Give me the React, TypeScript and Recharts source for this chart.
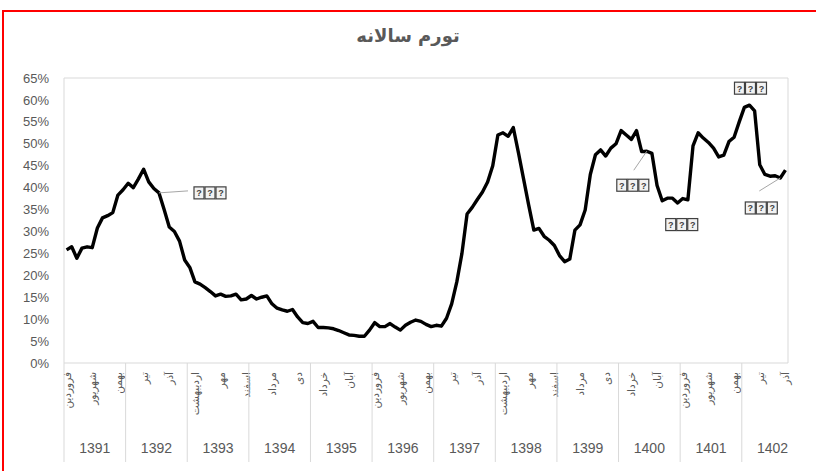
import React from 'react'
import { LineChart, Line, XAxis, YAxis, ReferenceArea } from 'recharts'

// ماه‌ها و سال‌ها
const months = ['فروردین', 'اردیبهشت', 'خرداد', 'تیر', 'مرداد', 'شهریور', 'مهر', 'آبان', 'آذر', 'دی', 'بهمن', 'اسفند']
const years = [1391, 1392, 1393, 1394, 1395, 1396, 1397, 1398, 1399, 1400, 1401, 1402]

// annual inflation, percent, monthly from 1391/01 to 1402/09
const inflation = [
  25.8, 26.5, 23.9, 26.2, 26.5, 26.3, 30.8, 33.1, 33.6, 34.3, 38.3, 39.5,
  41.0, 40.0, 42.0, 44.2, 41.3, 39.8, 38.8, 35.0, 31.0, 30.0, 27.8, 23.5,
  21.8, 18.5, 18.0, 17.2, 16.3, 15.3, 15.7, 15.2, 15.3, 15.7, 14.4, 14.6,
  15.4, 14.6, 15.0, 15.3, 13.5, 12.5, 12.1, 11.8, 12.2, 10.5, 9.2, 9.0,
  9.5, 8.1, 8.1, 8.0, 7.8, 7.4, 6.9, 6.4, 6.3, 6.1, 6.1, 7.5,
  9.2, 8.3, 8.3, 9.0, 8.2, 7.5, 8.6, 9.3, 9.8, 9.5, 8.8, 8.3,
  8.6, 8.4, 10.2, 13.5, 18.5, 25.0, 34.0, 35.5, 37.3, 39.0, 41.3, 45.0,
  52.0, 52.5, 51.7, 53.7, 48.0, 42.0, 36.0, 30.3, 30.7, 28.9, 28.0, 26.8,
  24.5, 23.1, 23.7, 30.3, 31.5, 34.9, 43.0, 47.5, 48.6, 47.2, 49.0, 50.0,
  53.0, 52.0, 51.0, 53.0, 48.2, 48.3, 47.8, 40.5, 37.0, 37.6, 37.6, 36.5,
  37.5, 37.2, 49.5, 52.5, 51.3, 50.3, 49.0, 47.0, 47.4, 50.5, 51.5, 55.0,
  58.3, 58.8, 57.5, 45.2, 43.0, 42.6, 42.7, 42.2, 44.0,
]

const yTicks = [0, 5, 10, 15, 20, 25, 30, 35, 40, 45, 50, 55, 60, 65]

// points that carry a data label (shown as missing-glyph boxes)
const noteIdx = [18, 113, 120, 139, 133]
const noteText = '???'

const data = inflation.map((v, i) => ({ x: i + 0.5, v }))
const n = inflation.length

const monthTicks = inflation.map((_, i) => i + 0.5).filter((_, i) => i % 5 === 0)
const yearStarts = years.map((_, k) => k * 12)
const yearMids = years.map((_, k) => k * 12 + 6)
const xTicks = [...yearStarts, ...yearMids, ...monthTicks].sort((a, b) => a - b)

const gray = '#595959'
const faFont = '"DejaVu Sans", sans-serif'
const numFont = '"Liberation Sans", Arial, sans-serif'

// offsets of the label text (and leader end) from its point
const noteStyle: Record<number, { dx: number; dy: number; lx?: number; ly?: number }> = {
  18: { dx: 51, dy: 0, lx: 29, ly: -2 },
  113: { dx: -14, dy: 34, lx: -13, ly: 19 },
  120: { dx: -1, dy: 26 },
  139: { dx: -19, dy: 30, lx: -21, ly: 13 },
  133: { dx: 1, dy: -17 },
}

function AxisTick(props: any) {
  const { x, y, payload } = props
  const v = payload.value as number
  if (v % 1 !== 0) {
    const i = Math.floor(v)
    return (
      <text
        x={x}
        y={y + 9}
        transform={`rotate(-90, ${x}, ${y + 9})`}
        textAnchor="end"
        dy={4}
        fontSize={10.5}
        fontFamily={faFont}
        fill={gray}
      >
        {months[i % 12]}
      </text>
    )
  }
  if (v % 12 === 0) {
    return <line x1={x} x2={x} y1={y} y2={y + 99} stroke="#d9d9d9" strokeWidth={1} />
  }
  const k = (v - 6) / 12
  return (
    <text x={x} y={y + 90} textAnchor="middle" fontSize={14} fontFamily={numFont} fill={gray}>
      {years[k]}
    </text>
  )
}

// draws the label as a row of "missing glyph" boxes
function NoteLabel(props: any) {
  const { x, y, index } = props
  if (!noteIdx.includes(index)) return null
  const s = noteStyle[index]
  const chars = noteText.split('')
  const bw = 10
  const gap = 1
  const total = chars.length * bw + (chars.length - 1) * gap
  const cx = x + s.dx
  const cy = y + s.dy
  return (
    <g>
      {s.lx !== undefined && (
        <line x1={x} y1={y} x2={x + s.lx} y2={y + (s.ly || 0)} stroke="#a6a6a6" strokeWidth={1} />
      )}
      {chars.map((c, j) => {
        const bx = cx - total / 2 + j * (bw + gap)
        return (
          <g key={j}>
            <rect x={bx} y={cy - 6} width={bw} height={12} fill="#f2f2f2" stroke="#404040" strokeWidth={1.2} />
            <text x={bx + bw / 2} y={cy + 3.5} textAnchor="middle" fontSize={9} fontWeight="bold" fontFamily={numFont} fill="#404040">
              {c}
            </text>
          </g>
        )
      })}
    </g>
  )
}

export default function App() {
  return (
    <div style={{ position: 'relative', width: 816, height: 471, overflow: 'hidden', background: '#fff' }}>
      <style>{'body{margin:0}'}</style>
      <div
        style={{
          position: 'absolute',
          left: 2,
          top: 10,
          width: 900,
          height: 600,
          borderTop: '2.5px solid #ff0000',
          borderLeft: '2.5px solid #ff0000',
        }}
      />
      <div
        style={{
          position: 'absolute',
          left: 0,
          width: 816,
          top: 25,
          textAlign: 'center',
          fontFamily: faFont,
          fontSize: 18,
          fontWeight: 'bold',
          color: gray,
          direction: 'rtl',
        }}
      >
        تورم سالانه
      </div>
      <LineChart width={816} height={471} data={data} margin={{ top: 78, right: 28, bottom: 0, left: 8 }}>
        <XAxis
          type="number"
          dataKey="x"
          domain={[0, n]}
          ticks={xTicks}
          interval={0}
          tick={<AxisTick />}
          tickLine={false}
          tickSize={0}
          tickMargin={0}
          axisLine={false}
          height={108}
          allowDataOverflow
        />
        <YAxis
          type="number"
          domain={[0, 65]}
          ticks={yTicks}
          interval={0}
          tickFormatter={(v: number) => `${v}%`}
          tick={{ fontSize: 13, fontFamily: numFont, fill: gray }}
          tickLine={false}
          tickSize={0}
          tickMargin={15}
          axisLine={false}
          width={56}
        />
        <ReferenceArea x1={0} x2={n} y1={0} y2={65} fill="none" stroke="#d9d9d9" strokeWidth={1} ifOverflow="visible" />
        <Line
          type="linear"
          dataKey="v"
          stroke="#000"
          strokeWidth={3.4}
          strokeLinejoin="round"
          dot={false}
          isAnimationActive={false}
          label={<NoteLabel />}
        />
      </LineChart>
    </div>
  )
}
